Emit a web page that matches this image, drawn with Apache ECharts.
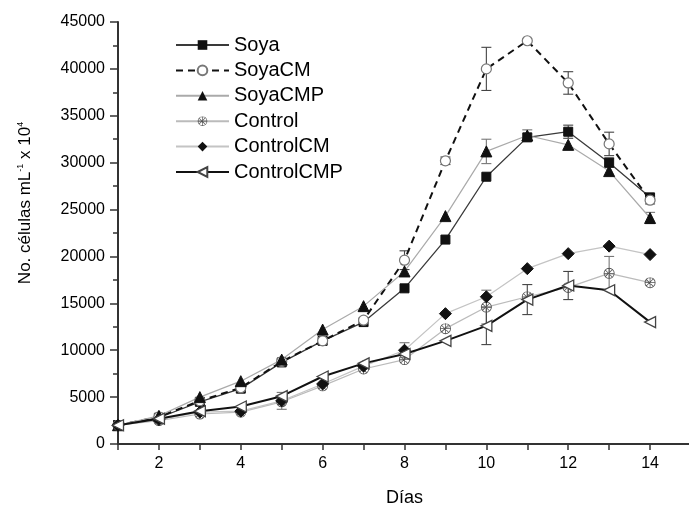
<!DOCTYPE html>
<html><head><meta charset="utf-8">
<script src="https://cdn.jsdelivr.net/npm/echarts@6/dist/echarts.min.js"></script>
<style>html,body{margin:0;padding:0;background:#fff}#c{width:689px;height:507px}</style>
</head><body><div id="c"></div>
<script>
const days = [1,2,3,4,5,6,7,8,9,10,11,12,13,14];
const seriesNames = ['Soya','SoyaCM','SoyaCMP','Control','ControlCM','ControlCMP'];
const soya       = [2000,2800,4500,5900,8700,11000,13000,16600,21800,28500,32700,33300,30000,26300];
const soyaCM     = [2000,2900,4600,6000,8800,11000,13200,19600,30200,40000,43000,38500,32000,26000];
const soyaCMP    = [2000,3000,5000,6700,9000,12200,14700,18400,24300,31200,32900,31900,29100,24100];
const control    = [2000,2500,3200,3400,4500,6200,8000,9000,12300,14600,15700,16700,18200,17200];
const controlCM  = [2000,2600,3400,3500,4600,6400,8300,10000,13900,15700,18700,20300,21100,20200];
const controlCMP = [2000,2700,3500,4000,5100,7200,8600,9600,11000,12600,15400,16900,16400,13000];
const soyaErr       = [0,0,0,0,0,0,0,0,0,0,0,700,500,0];
const soyaCMErr     = [0,300,0,0,0,0,0,1000,400,2300,0,1200,1250,400];
const soyaCMPErr    = [0,0,0,0,0,0,0,0,0,1300,600,0,0,600];
const controlErr    = [0,0,0,0,0,0,0,0,0,1800,0,0,1800,0];
const controlCMErr  = [0,0,0,0,900,0,0,800,0,0,0,0,0,0];
const controlCMPErr = [0,0,0,0,0,0,0,0,0,2000,1600,1500,0,0];
const yTicks = [0,5000,10000,15000,20000,25000,30000,35000,40000,45000];

const values = [soya,soyaCM,soyaCMP,control,controlCM,controlCMP];
const errs = [soyaErr,soyaCMErr,soyaCMPErr,controlErr,controlCMErr,controlCMPErr];
const lineStyles = [
  {color:'#3a3a3a',width:1.3,type:'solid'},
  {color:'#111',width:2,type:[7,5]},
  {color:'#aaa',width:1.2,type:'solid'},
  {color:'#bbb',width:1.2,type:'solid'},
  {color:'#c4c4c4',width:1.2,type:'solid'},
  {color:'#111',width:2,type:'solid'}
];
const crossCircle = 'path://M10,0A10,10,0,1,1,9.99,0ZM10,1.5A8.5,8.5,0,1,0,10.01,1.5ZM3,3L17,17L16,18L2,4ZM17,3L3,17L2,16L16,2ZM9.3,0H10.7V20H9.3ZM0,9.3H20V10.7H0Z';
const symbols = [
  {symbol:'rect',size:9,item:{color:'#111',borderColor:'#111'}},
  {symbol:'circle',size:10,item:{color:'#fff',borderColor:'#777',borderWidth:1.2}},
  {symbol:'triangle',size:11,item:{color:'#111',borderColor:'#111'}},
  {symbol:crossCircle,size:11,item:{color:'#555',borderColor:'#555',borderWidth:0}},
  {symbol:'diamond',size:12,item:{color:'#111',borderColor:'#111'}},
  {symbol:'triangle',size:11,rotate:90,item:{color:'#fff',borderColor:'#444',borderWidth:1.3}}
];

const series = [];
seriesNames.forEach((n,i)=>{
  series.push({
    type:'custom', name:n+'_err', silent:true, z:1,
    data: days.map((d,k)=>[d, values[i][k], errs[i][k]]).filter(r=>r[2]>0),
    renderItem:(params,api)=>{
      const x=api.value(0), y=api.value(1), e=api.value(2);
      const hi=api.coord([x,y+e]), lo=api.coord([x,y-e]);
      const w=5;
      const st={stroke:i===1||i===5||i===0?'#444':'#777',lineWidth:1.1};
      return {type:'group',children:[
        {type:'line',shape:{x1:hi[0],y1:hi[1],x2:lo[0],y2:lo[1]},style:st},
        {type:'line',shape:{x1:hi[0]-w,y1:hi[1],x2:hi[0]+w,y2:hi[1]},style:st},
        {type:'line',shape:{x1:lo[0]-w,y1:lo[1],x2:lo[0]+w,y2:lo[1]},style:st}
      ]};
    }
  });
});
seriesNames.forEach((n,i)=>{
  const s=symbols[i];
  series.push({
    type:'line', name:n, z:3,
    data: days.map((d,k)=>[d, values[i][k]]),
    symbol:s.symbol, symbolSize:s.size, symbolRotate:s.rotate||0,
    showAllSymbol:true,
    lineStyle:lineStyles[i], itemStyle:s.item,
    emphasis:{disabled:true}, animation:false
  });
});

const FONT='Liberation Sans, Arial, sans-serif';
const chart = echarts.init(document.getElementById('c'));
chart.setOption({
  backgroundColor:'#fff',
  animation:false,
  textStyle:{fontFamily:FONT},
  grid:{left:118,right:-2,top:22,bottom:63,containLabel:false,outerBoundsMode:'none'},
  legend:{
    data:seriesNames, orient:'vertical', left:175, top:35, padding:0,
    itemWidth:53, itemHeight:12, itemGap:5.4,
    textStyle:{fontSize:20,lineHeight:20,color:'#000',fontFamily:FONT},
    selectedMode:false
  },
  xAxis:{
    type:'value', min:1, max:15, interval:1,
    name:'Días', nameLocation:'middle', nameGap:45,
    nameTextStyle:{fontSize:18,color:'#000'},
    axisLine:{lineStyle:{color:'#333',width:2}},
    axisTick:{inside:false,length:6,lineStyle:{color:'#333',width:1.5}},
    axisLabel:{fontSize:16,color:'#000',margin:12,
      formatter:v=>(v%2===0&&v<=14)?String(v):''},
    splitLine:{show:false}
  },
  yAxis:{
    type:'value', min:yTicks[0], max:yTicks[yTicks.length-1], interval:5000,
    name:'No. células mL{s|-1} x 10{s|4}', nameLocation:'middle', nameGap:83,
    nameTextStyle:{fontSize:17,color:'#000',padding:[0,0,0,60],
      rich:{s:{fontSize:9,verticalAlign:'top',padding:[0,0,10,0],color:'#000'}}},
    axisLine:{show:true,lineStyle:{color:'#333',width:2}},
    axisTick:{show:true,length:8,lineStyle:{color:'#333',width:1.5}},
    minorTick:{show:true,splitNumber:2,length:5,lineStyle:{color:'#333',width:1.5}},
    axisLabel:{fontSize:16,color:'#000',margin:13,formatter:v=>String(v)},
    splitLine:{show:false}
  },
  series:series
});
</script></body></html>
